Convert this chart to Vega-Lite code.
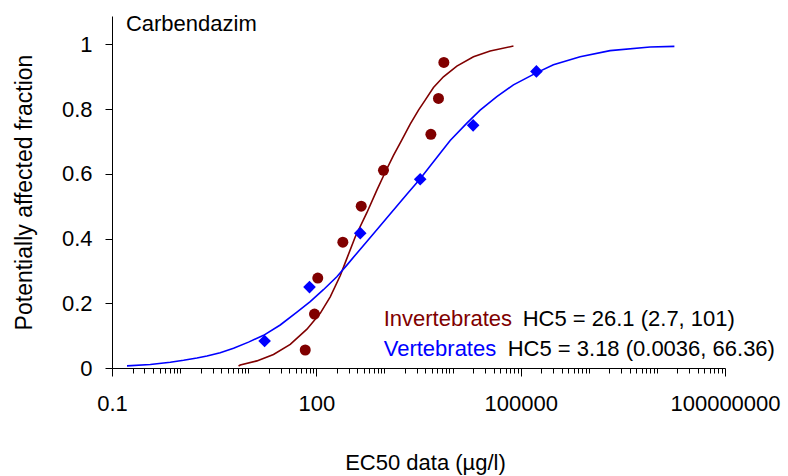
{
  "$schema": "https://vega.github.io/schema/vega-lite/v6.json",
  "width": 613,
  "height": 352,
  "autosize": {"type": "none"},
  "padding": {"left": 112, "top": 16, "right": 63, "bottom": 108},
  "background": "white",
  "config": {
    "view": {"stroke": null},
    "font": "Liberation Sans",
    "axis": {
      "grid": false,
      "domainColor": "black",
      "tickColor": "black",
      "labelColor": "black",
      "titleColor": "black",
      "labelFontSize": 22,
      "titleFontSize": 22,
      "titleFontWeight": "normal",
      "labelFont": "Liberation Sans",
      "titleFont": "Liberation Sans"
    }
  },
  "datasets": {
    "curve_inv": [
      {"ec50": 7.21, "paf": 0.006},
      {"ec50": 7.64, "paf": 0.009},
      {"ec50": 13.4, "paf": 0.022},
      {"ec50": 23.5, "paf": 0.042},
      {"ec50": 41.4, "paf": 0.073},
      {"ec50": 72.8, "paf": 0.12},
      {"ec50": 114, "paf": 0.169},
      {"ec50": 160, "paf": 0.22},
      {"ec50": 224, "paf": 0.285},
      {"ec50": 265, "paf": 0.325},
      {"ec50": 372, "paf": 0.405},
      {"ec50": 552, "paf": 0.48},
      {"ec50": 774, "paf": 0.55},
      {"ec50": 1026, "paf": 0.605},
      {"ec50": 1358, "paf": 0.657},
      {"ec50": 1803, "paf": 0.705},
      {"ec50": 2388, "paf": 0.754},
      {"ec50": 3162, "paf": 0.797},
      {"ec50": 3963, "paf": 0.828},
      {"ec50": 5248, "paf": 0.867},
      {"ec50": 7345, "paf": 0.9},
      {"ec50": 11560, "paf": 0.933},
      {"ec50": 20280, "paf": 0.962},
      {"ec50": 35650, "paf": 0.98},
      {"ec50": 78340, "paf": 0.995}
    ],
    "curve_vert": [
      {"ec50": 0.166, "paf": 0.0065},
      {"ec50": 0.365, "paf": 0.011},
      {"ec50": 0.718, "paf": 0.018},
      {"ec50": 1.124, "paf": 0.024},
      {"ec50": 1.767, "paf": 0.031},
      {"ec50": 2.48, "paf": 0.037},
      {"ec50": 3.88, "paf": 0.047},
      {"ec50": 6.09, "paf": 0.061},
      {"ec50": 10.1, "paf": 0.08},
      {"ec50": 16.8, "paf": 0.101},
      {"ec50": 29.5, "paf": 0.133},
      {"ec50": 51.9, "paf": 0.173},
      {"ec50": 81.3, "paf": 0.205},
      {"ec50": 127, "paf": 0.242},
      {"ec50": 200, "paf": 0.282},
      {"ec50": 281, "paf": 0.318},
      {"ec50": 394, "paf": 0.355},
      {"ec50": 690, "paf": 0.415},
      {"ec50": 1213, "paf": 0.476},
      {"ec50": 2134, "paf": 0.537},
      {"ec50": 3350, "paf": 0.585},
      {"ec50": 4690, "paf": 0.624},
      {"ec50": 6577, "paf": 0.664},
      {"ec50": 9226, "paf": 0.703},
      {"ec50": 16220, "paf": 0.757},
      {"ec50": 25410, "paf": 0.797},
      {"ec50": 44670, "paf": 0.839},
      {"ec50": 78340, "paf": 0.875},
      {"ec50": 172600, "paf": 0.913},
      {"ec50": 302700, "paf": 0.937},
      {"ec50": 746500, "paf": 0.962},
      {"ec50": 2056000, "paf": 0.981},
      {"ec50": 7943000, "paf": 0.992},
      {"ec50": 18070000, "paf": 0.994}
    ],
    "pts_inv": [
      {"ec50": 68.7, "paf": 0.0556},
      {"ec50": 94, "paf": 0.1667},
      {"ec50": 105, "paf": 0.2778},
      {"ec50": 245, "paf": 0.3889},
      {"ec50": 456, "paf": 0.5},
      {"ec50": 968, "paf": 0.6111},
      {"ec50": 4805, "paf": 0.7222},
      {"ec50": 6210, "paf": 0.8333},
      {"ec50": 7450, "paf": 0.9444}
    ],
    "pts_vert": [
      {"ec50": 17.4, "paf": 0.0833},
      {"ec50": 79.4, "paf": 0.25},
      {"ec50": 441, "paf": 0.4167},
      {"ec50": 3350, "paf": 0.5833},
      {"ec50": 20050, "paf": 0.75},
      {"ec50": 170300, "paf": 0.9167}
    ],
    "labels": [
      {"grp": "Invertebrates", "hc5": "HC5 = 26.1 (2.7, 101)"},
      {"grp": "Vertebrates", "hc5": "HC5 = 3.18 (0.0036, 66.36)"}
    ],
    "heading": [
      {"name": "Carbendazim"}
    ]
  },
  "layer": [
    {
      "data": {"name": "curve_inv"},
      "mark": {"type": "line", "color": "#800000", "strokeWidth": 1.6},
      "encoding": {
        "x": {
          "field": "ec50",
          "type": "quantitative",
          "scale": {"type": "log", "domain": [0.1, 100000000], "nice": false},
          "axis": {
            "title": "EC50 data (µg/l)",
            "values": [0.1,0.2,0.3,0.4,0.5,0.6,0.7,0.8,0.9,1,2,3,4,5,6,7,8,9,10,20,30,40,50,60,70,80,90,100,200,300,400,500,600,700,800,900,1000,2000,3000,4000,5000,6000,7000,8000,9000,10000,20000,30000,40000,50000,60000,70000,80000,90000,100000,200000,300000,400000,500000,600000,700000,800000,900000,1000000,2000000,3000000,4000000,5000000,6000000,7000000,8000000,9000000,10000000,20000000,30000000,40000000,50000000,60000000,70000000,80000000,90000000,100000000],
            "labelExpr": "datum.value == 0.1 ? '0.1' : datum.value == 100 ? '100' : datum.value == 100000 ? '100000' : datum.value == 100000000 ? '100000000' : ''",
            "tickSize": {"condition": {"test": "datum.value == 0.1 || datum.value == 100 || datum.value == 100000 || datum.value == 100000000", "value": 8}, "value": 5},
            "labelPadding": 17,
            "labelOverlap": false,
            "labelFlush": false,
            "labelBound": false,
            "titlePadding": 38,
            "titleX": 313
          }
        },
        "y": {
          "field": "paf",
          "type": "quantitative",
          "scale": {"domain": [0, 1.088], "nice": false},
          "axis": {
            "title": "Potentially affected fraction",
            "titleFontSize": 23,
            "values": [0, 0.2, 0.4, 0.6, 0.8, 1],
            "format": "~g",
            "tickSize": 7,
            "labelPadding": 13,
            "titlePadding": 25
          }
        }
      }
    },
    {
      "data": {"name": "curve_vert"},
      "mark": {"type": "line", "color": "#0000FF", "strokeWidth": 1.6},
      "encoding": {
        "x": {"field": "ec50", "type": "quantitative"},
        "y": {"field": "paf", "type": "quantitative"}
      }
    },
    {
      "data": {"name": "pts_inv"},
      "mark": {"type": "point", "shape": "circle", "filled": true, "size": 121, "color": "#800000", "opacity": 1},
      "encoding": {
        "x": {"field": "ec50", "type": "quantitative"},
        "y": {"field": "paf", "type": "quantitative"}
      }
    },
    {
      "data": {"name": "pts_vert"},
      "mark": {"type": "point", "shape": "diamond", "filled": true, "size": 160, "color": "#0000FF", "opacity": 1},
      "encoding": {
        "x": {"field": "ec50", "type": "quantitative"},
        "y": {"field": "paf", "type": "quantitative"}
      }
    },
    {
      "data": {"name": "heading"},
      "mark": {"type": "text", "align": "left", "baseline": "alphabetic", "fontSize": 22, "font": "Liberation Sans", "color": "black"},
      "encoding": {
        "x": {"datum": 0.16, "type": "quantitative"},
        "y": {"datum": 1.042, "type": "quantitative"},
        "text": {"field": "name"}
      }
    },
    {
      "data": {"name": "labels"},
      "transform": [{"filter": "datum.grp == 'Invertebrates'"}],
      "mark": {"type": "text", "align": "left", "baseline": "alphabetic", "fontSize": 22, "font": "Liberation Sans", "color": "#800000"},
      "encoding": {
        "x": {"datum": 975, "type": "quantitative"},
        "y": {"datum": 0.129, "type": "quantitative"},
        "text": {"field": "grp"}
      }
    },
    {
      "data": {"name": "labels"},
      "transform": [{"filter": "datum.grp == 'Invertebrates'"}],
      "mark": {"type": "text", "align": "left", "baseline": "alphabetic", "fontSize": 22, "font": "Liberation Sans", "color": "black", "dx": 139},
      "encoding": {
        "x": {"datum": 975, "type": "quantitative"},
        "y": {"datum": 0.129, "type": "quantitative"},
        "text": {"field": "hc5"}
      }
    },
    {
      "data": {"name": "labels"},
      "transform": [{"filter": "datum.grp == 'Vertebrates'"}],
      "mark": {"type": "text", "align": "left", "baseline": "alphabetic", "fontSize": 22, "font": "Liberation Sans", "color": "#0000FF"},
      "encoding": {
        "x": {"datum": 975, "type": "quantitative"},
        "y": {"datum": 0.0365, "type": "quantitative"},
        "text": {"field": "grp"}
      }
    },
    {
      "data": {"name": "labels"},
      "transform": [{"filter": "datum.grp == 'Vertebrates'"}],
      "mark": {"type": "text", "align": "left", "baseline": "alphabetic", "fontSize": 22, "font": "Liberation Sans", "color": "black", "dx": 124},
      "encoding": {
        "x": {"datum": 975, "type": "quantitative"},
        "y": {"datum": 0.0365, "type": "quantitative"},
        "text": {"field": "hc5"}
      }
    }
  ]
}
